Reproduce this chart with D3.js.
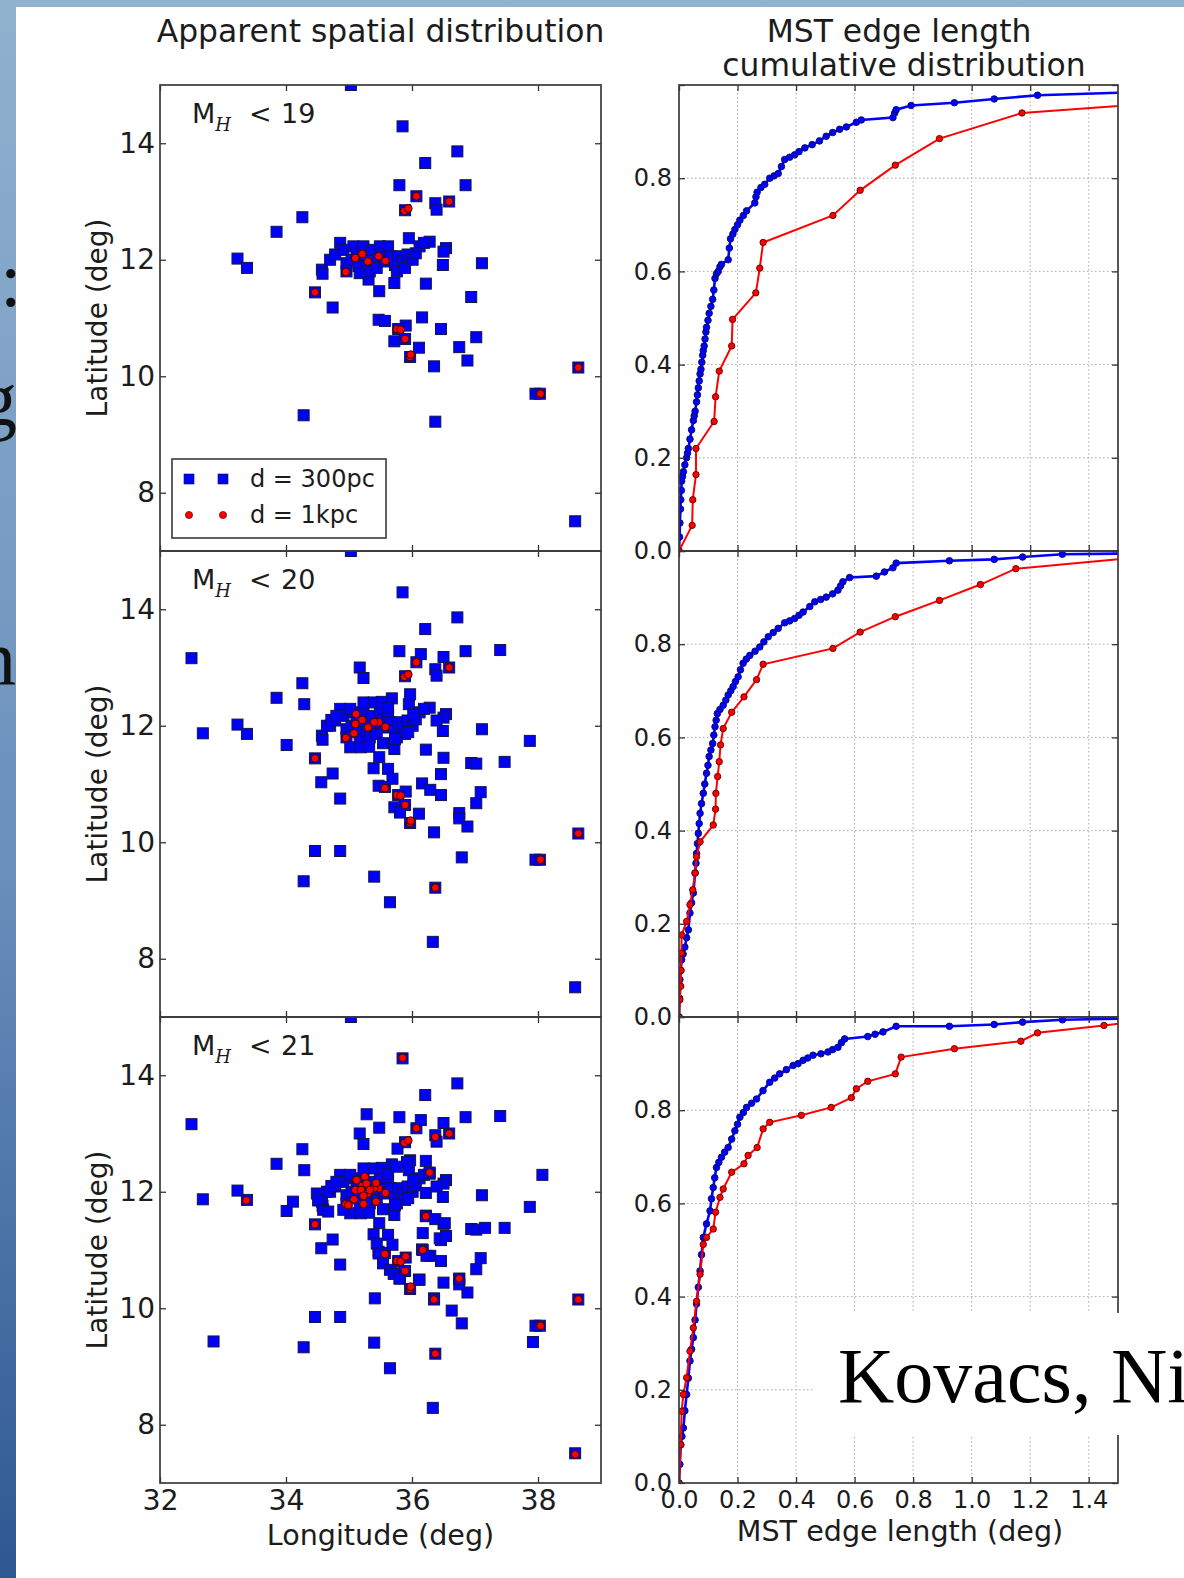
<!DOCTYPE html>
<html><head><meta charset="utf-8">
<script src="https://cdn.jsdelivr.net/npm/d3@7"></script>
<style>body{margin:0;background:#fff;} svg{display:block;}</style>
</head><body>
<svg id="c" width="1184" height="1578"></svg>
<script>
// ---------------- DATA ----------------
const panelLabels = ["19", "20", "21"];
const lonTicks = [32, 34, 36, 38];
const latTicks = [8, 10, 12, 14];
const lenTicks = [0, 0.2, 0.4, 0.6, 0.8, 1.0, 1.2, 1.4];
const cumTicks = [0, 0.2, 0.4, 0.6, 0.8];
const legendLabels = ["d = 300pc", "d = 1kpc"];

// d = 300pc sources, M_H < 19
const blue19 = [[35.03,15.0],[35.85,14.29],[36.72,13.86],[36.21,13.66],[35.80,13.28],[36.85,13.28],[36.07,13.09],[36.37,12.97],[36.39,12.86],[36.59,13.0],[35.89,12.85],[34.26,12.73],[33.85,12.48],[33.23,12.02],[33.38,11.86],[35.95,12.37],[36.28,12.31],[36.54,12.20],[36.50,12.14],[37.11,11.94],[36.49,11.91],[36.22,11.59],[36.94,11.36],[34.46,11.44],[34.74,11.18],[35.48,11.46],[35.72,11.60],[35.31,11.66],[35.47,10.97],[35.57,10.95],[35.90,10.87],[35.78,10.81],[35.72,10.60],[35.89,10.64],[36.16,11.01],[36.46,10.81],[37.02,10.67],[36.75,10.50],[36.11,10.49],[35.97,10.33],[36.35,10.17],[36.88,10.27],[38.64,10.15],[37.96,9.70],[38.03,9.70],[34.28,9.33],[36.37,9.22],[38.59,7.51],
[34.57,11.83],[34.58,11.76],[34.70,12.0],[34.78,12.09],[34.86,12.29],[34.91,12.17],[34.96,11.94],[34.96,11.80],[35.04,12.0],[35.07,12.23],[35.12,12.11],[35.15,11.89],[35.17,11.77],[35.23,12.23],[35.25,12.06],[35.28,11.89],[35.33,11.80],[35.36,12.17],[35.44,12.0],[35.44,11.86],[35.49,12.23],[35.54,12.11],[35.57,11.97],[35.62,12.23],[35.66,12.06],[35.73,11.91],[35.76,11.80],[35.78,12.06],[35.85,11.97],[35.89,11.86],[35.93,12.09],[36.01,12.0],[36.06,12.11],[36.12,12.23],[36.19,12.29]];
// additional d = 300pc sources with 19 <= M_H < 20
const blue20 = [[32.50,13.16],[32.68,11.87],[34.01,11.67],[34.29,12.37],[35.17,13.0],[35.23,12.82],[36.14,13.23],[36.50,13.18],[37.40,13.30],[37.87,11.74],[37.47,11.38],[37.02,11.35],[36.50,11.45],[36.46,11.17],[36.29,10.90],[37.09,10.86],[36.75,10.41],[35.39,11.27],[35.62,11.26],[35.69,11.09],[34.86,10.75],[34.56,11.03],[35.81,10.51],[34.46,9.85],[34.86,9.85],[35.40,9.41],[35.65,8.97],[36.79,9.74],[36.33,8.29],[35.68,12.47],[35.97,12.54],[35.39,12.40],[35.52,12.41],[36.39,12.09],[34.65,12.0],[34.72,12.10],[35.02,11.63],[35.19,11.63],[35.32,11.64],[35.54,11.70],[35.73,11.77],[35.94,11.89],[36.02,12.20],[35.62,12.31],[35.23,12.40],[35.02,12.29],[34.80,12.17]];
// additional d = 300pc sources with 20 <= M_H < 21
const blue21 = [[35.28,13.33],[35.48,13.10],[35.77,12.74],[36.22,12.53],[36.28,12.33],[38.07,12.29],[36.22,11.98],[34.11,11.83],[34.49,11.97],[34.51,11.85],[34.59,11.69],[34.67,11.66],[36.22,11.58],[36.37,11.53],[36.52,11.46],[36.17,11.29],[36.44,11.20],[36.54,11.24],[37.16,11.38],[36.17,11.0],[36.23,10.90],[35.44,11.11],[35.47,10.94],[35.54,10.77],[35.65,10.66],[35.71,10.59],[35.80,10.51],[36.12,10.49],[36.50,10.44],[36.75,10.51],[36.35,10.15],[35.41,10.17],[36.63,9.96],[37.92,9.42],[32.85,9.43],[35.92,12.51],[35.76,12.43],[34.91,11.69]];

// d = 1kpc sources
const red19 = [[36.07,13.09],[36.59,13.0],[35.88,12.84],[35.94,12.88],[34.95,11.79],[35.10,12.03],[35.21,12.10],[35.30,11.97],[35.47,12.06],[35.58,11.98],[34.46,11.44],[35.76,10.81],[35.82,10.80],[35.89,10.64],[35.97,10.33],[35.98,10.37],[38.64,10.15],[38.04,9.70]];
const red20 = [[36.37,9.22],[35.57,10.93],[35.11,12.20],[35.08,11.87],[35.40,12.06]];
const red21 = [[35.85,14.30],[36.28,12.33],[33.37,11.85],[36.22,11.58],[36.17,11.0],[35.90,10.89],[36.75,10.51],[36.35,10.15],[38.59,7.49],[36.37,12.94],[35.12,12.20],[35.25,12.26],[35.19,12.03],[35.28,12.14],[35.23,11.93],[35.33,12.03],[35.43,12.15],[35.43,11.83],[34.99,11.77],[35.23,11.79]];

// MST edge length cumulative distributions [length (deg), fraction]
const cdfBlue19 = [[0,0],[0.002,0.03],[0.003,0.06],[0.005,0.09],[0.006,0.11],[0.008,0.13],[0.009,0.15],[0.012,0.16],[0.015,0.17],[0.02,0.185],[0.026,0.20],[0.029,0.21],[0.032,0.22],[0.0375,0.24],[0.043,0.26],[0.049,0.28],[0.052,0.29],[0.055,0.30],[0.06,0.32],[0.063,0.335],[0.066,0.35],[0.069,0.365],[0.072,0.38],[0.075,0.39],[0.078,0.405],[0.081,0.42],[0.083,0.43],[0.086,0.44],[0.089,0.455],[0.092,0.47],[0.094,0.48],[0.099,0.495],[0.103,0.51],[0.109,0.525],[0.115,0.54],[0.119,0.56],[0.123,0.585],[0.128,0.595],[0.134,0.60],[0.14,0.61],[0.145,0.615],[0.168,0.625],[0.172,0.65],[0.176,0.67],[0.184,0.68],[0.191,0.69],[0.2,0.70],[0.208,0.71],[0.22,0.72],[0.231,0.73],[0.259,0.747],[0.263,0.76],[0.267,0.77],[0.28,0.78],[0.293,0.787],[0.31,0.80],[0.325,0.805],[0.339,0.81],[0.35,0.825],[0.361,0.84],[0.378,0.845],[0.395,0.85],[0.41,0.857],[0.43,0.865],[0.455,0.872],[0.48,0.88],[0.503,0.89],[0.525,0.898],[0.549,0.905],[0.572,0.91],[0.606,0.92],[0.623,0.925],[0.731,0.93],[0.737,0.94],[0.742,0.947],[0.793,0.956],[0.941,0.962],[1.077,0.97],[1.225,0.978],[1.75,0.988]];
const cdfRed19 = [[0,0],[0.045,0.055],[0.047,0.11],[0.058,0.164],[0.058,0.22],[0.12,0.278],[0.125,0.331],[0.1375,0.386],[0.18,0.44],[0.183,0.497],[0.2625,0.554],[0.276,0.607],[0.2875,0.662],[0.526,0.72],[0.619,0.774],[0.739,0.828],[0.89,0.885],[1.172,0.94],[2.5,1.0]];
const cdfBlue20 = [[0,0],[0.002,0.04],[0.003,0.08],[0.006,0.10],[0.009,0.123],[0.014,0.135],[0.02,0.15],[0.026,0.17],[0.032,0.187],[0.0375,0.223],[0.043,0.245],[0.049,0.266],[0.055,0.309],[0.058,0.33],[0.06,0.351],[0.063,0.372],[0.066,0.394],[0.069,0.415],[0.072,0.437],[0.077,0.458],[0.083,0.48],[0.088,0.50],[0.094,0.523],[0.099,0.54],[0.103,0.559],[0.109,0.573],[0.115,0.587],[0.119,0.605],[0.123,0.623],[0.127,0.637],[0.131,0.651],[0.14,0.66],[0.151,0.669],[0.16,0.68],[0.168,0.691],[0.177,0.70],[0.185,0.709],[0.193,0.72],[0.202,0.73],[0.21,0.745],[0.219,0.759],[0.23,0.768],[0.242,0.776],[0.26,0.785],[0.276,0.794],[0.29,0.805],[0.305,0.816],[0.322,0.825],[0.339,0.834],[0.361,0.846],[0.378,0.85],[0.395,0.855],[0.41,0.862],[0.424,0.869],[0.447,0.881],[0.464,0.891],[0.484,0.896],[0.503,0.901],[0.525,0.908],[0.543,0.916],[0.552,0.925],[0.56,0.934],[0.583,0.943],[0.674,0.946],[0.702,0.955],[0.731,0.964],[0.742,0.974],[0.924,0.979],[1.077,0.982],[1.174,0.987],[1.31,0.993],[1.7,0.996]];
const cdfRed20 = [[0,0],[0.003,0.037],[0.006,0.066],[0.007,0.10],[0.008,0.137],[0.009,0.176],[0.026,0.205],[0.0375,0.241],[0.047,0.273],[0.055,0.309],[0.06,0.344],[0.072,0.376],[0.117,0.412],[0.125,0.446],[0.126,0.48],[0.132,0.516],[0.1375,0.548],[0.142,0.584],[0.151,0.619],[0.18,0.654],[0.222,0.687],[0.265,0.724],[0.2875,0.757],[0.526,0.791],[0.619,0.826],[0.739,0.859],[0.89,0.894],[1.03,0.928],[1.151,0.962],[1.8,1.0]];
const cdfBlue21 = [[0,0],[0.003,0.04],[0.006,0.082],[0.01,0.10],[0.015,0.118],[0.02,0.155],[0.026,0.19],[0.032,0.225],[0.0375,0.262],[0.043,0.287],[0.049,0.312],[0.055,0.35],[0.06,0.384],[0.066,0.42],[0.072,0.455],[0.077,0.49],[0.083,0.527],[0.094,0.556],[0.106,0.584],[0.111,0.61],[0.117,0.634],[0.122,0.655],[0.128,0.677],[0.136,0.688],[0.145,0.699],[0.156,0.71],[0.168,0.72],[0.18,0.738],[0.191,0.756],[0.2,0.77],[0.208,0.785],[0.22,0.795],[0.231,0.806],[0.248,0.815],[0.265,0.824],[0.287,0.842],[0.31,0.86],[0.327,0.869],[0.344,0.878],[0.367,0.887],[0.39,0.896],[0.407,0.90],[0.424,0.907],[0.44,0.912],[0.458,0.918],[0.485,0.921],[0.509,0.925],[0.525,0.93],[0.543,0.935],[0.555,0.945],[0.566,0.953],[0.645,0.958],[0.67,0.963],[0.697,0.968],[0.742,0.98],[0.924,0.98],[1.077,0.984],[1.174,0.989],[1.31,0.994],[1.8,1.0]];
const cdfRed21 = [[0,0],[0.006,0.082],[0.009,0.154],[0.015,0.19],[0.026,0.226],[0.0375,0.283],[0.049,0.333],[0.06,0.39],[0.072,0.448],[0.083,0.512],[0.094,0.527],[0.117,0.545],[0.125,0.581],[0.14,0.613],[0.151,0.631],[0.18,0.667],[0.222,0.685],[0.236,0.703],[0.267,0.72],[0.2875,0.76],[0.31,0.774],[0.418,0.789],[0.52,0.806],[0.589,0.827],[0.606,0.846],[0.645,0.862],[0.739,0.878],[0.759,0.914],[0.941,0.932],[1.168,0.948],[1.225,0.966],[1.452,0.982],[1.7,1.0]];

// ---------------- LAYOUT ----------------
const W = 1184, H = 1578;
const FONT = "DejaVu Sans", TXT = "#1c1c1c";
const rowTop = [85, 551, 1017], rowH = 466;
const sx0 = 160, sx1 = 601, cx0 = 679, cx1 = 1118;

const bluePanels = [blue19, blue19.concat(blue20), blue19.concat(blue20, blue21)];
const redPanels = [red19, red19.concat(red20), red19.concat(red20, red21)];
const cdfBluePanels = [cdfBlue19, cdfBlue20, cdfBlue21];
const cdfRedPanels = [cdfRed19, cdfRed20, cdfRed21];

const svg = d3.select("#c");
const defs = svg.append("defs");
const lg = defs.append("linearGradient").attr("id", "bg").attr("x1", 0).attr("y1", 0).attr("x2", 0).attr("y2", 1);
lg.append("stop").attr("offset", "0%").attr("stop-color", "#90b2cf");
lg.append("stop").attr("offset", "55%").attr("stop-color", "#6a8fbc");
lg.append("stop").attr("offset", "100%").attr("stop-color", "#2e5892");
svg.append("rect").attr("width", W).attr("height", H).attr("fill", "url(#bg)");

// fragments of slide text peeking out on the left
const slideFrags = [{t: ":", x: 0, y: 306}, {t: "g", x: -22, y: 425}, {t: "n", x: -23, y: 685}];
svg.selectAll("text.frag").data(slideFrags).join("text").attr("class", "frag")
  .attr("x", d => d.x).attr("y", d => d.y).text(d => d.t)
  .attr("font-family", "Liberation Serif").attr("font-size", 78).attr("fill", "#111");

svg.append("rect").attr("x", 16).attr("y", 7).attr("width", W - 16).attr("height", H - 7).attr("fill", "#fff");

const xLon = d3.scaleLinear().domain([32, 39]).range([sx0, sx1]);
const xLen = d3.scaleLinear().domain([0, 1.5]).range([cx0, cx1]);

function styleAxis(g, fs) {
  g.attr("font-family", FONT).attr("font-size", fs);
  g.select(".domain").remove();
  g.selectAll(".tick line").attr("stroke", "#333").attr("stroke-width", 1.3);
  g.selectAll(".tick text").attr("fill", TXT);
}

rowTop.forEach((top, i) => {
  const bot = top + rowH;
  const yLat = d3.scaleLinear().domain([7, 15]).range([bot, top]);
  const yCum = d3.scaleLinear().domain([0, 1]).range([bot, top]);

  defs.append("clipPath").attr("id", "cs" + i).append("rect")
    .attr("x", sx0).attr("y", top).attr("width", sx1 - sx0).attr("height", rowH);
  defs.append("clipPath").attr("id", "cc" + i).append("rect")
    .attr("x", cx0).attr("y", top).attr("width", cx1 - cx0).attr("height", rowH);

  // ---- scatter panel ----
  const sp = svg.append("g").attr("clip-path", `url(#cs${i})`);
  sp.selectAll("rect.b").data(bluePanels[i]).join("rect").attr("class", "b")
    .attr("x", d => xLon(d[0]) - 5.5).attr("y", d => yLat(d[1]) - 5.5)
    .attr("width", 11).attr("height", 11)
    .attr("fill", "#0000ff").attr("stroke", "#14144a").attr("stroke-width", 1);
  sp.selectAll("circle.r").data(redPanels[i]).join("circle").attr("class", "r")
    .attr("cx", d => xLon(d[0])).attr("cy", d => yLat(d[1])).attr("r", 3.9)
    .attr("fill", "#ff0000").attr("stroke", "#300000").attr("stroke-width", 1);

  // axes scatter
  styleAxis(svg.append("g").attr("transform", `translate(${sx0},0)`)
    .call(d3.axisLeft(yLat).tickValues(latTicks).tickSizeInner(-6).tickSizeOuter(0).tickPadding(5)), 28);
  styleAxis(svg.append("g").attr("transform", `translate(${sx1},0)`)
    .call(d3.axisRight(yLat).tickValues(latTicks).tickSizeInner(-6).tickSizeOuter(0).tickFormat("")), 28);
  styleAxis(svg.append("g").attr("transform", `translate(0,${top})`)
    .call(d3.axisTop(xLon).tickValues(lonTicks).tickSizeInner(-6).tickSizeOuter(0).tickFormat("")), 28);
  styleAxis(svg.append("g").attr("transform", `translate(0,${bot})`)
    .call(d3.axisBottom(xLon).tickValues(lonTicks).tickSizeInner(-6).tickSizeOuter(0).tickPadding(7)
      .tickFormat(i === 2 ? d3.format("d") : "")), 28.5);
  svg.append("rect").attr("x", sx0).attr("y", top).attr("width", sx1 - sx0).attr("height", rowH)
    .attr("fill", "none").attr("stroke", "#3a3a3a").attr("stroke-width", 1.7);

  // panel label
  const lab = svg.append("text").attr("x", 192).attr("y", top + 38)
    .attr("font-family", FONT).attr("font-size", 27).attr("fill", TXT);
  lab.append("tspan").text("M");
  lab.append("tspan").attr("dy", 8).attr("font-family", "DejaVu Serif").attr("font-style", "italic")
    .attr("font-size", 18).text("H");
  lab.append("tspan").attr("dy", -8).attr("x", 249).text("<");
  lab.append("tspan").attr("x", 281).text(panelLabels[i]);

  // y label
  svg.append("text").attr("transform", `translate(107,${top + rowH / 2}) rotate(-90)`)
    .attr("text-anchor", "middle").attr("font-family", FONT).attr("font-size", 28).attr("fill", TXT)
    .text("Latitude (deg)");

  // ---- CDF panel ----
  const gridG = svg.append("g").attr("stroke", "#aaaaaa").attr("stroke-width", 1).attr("stroke-dasharray", "1.5,2.5");
  gridG.selectAll("line.gx").data(lenTicks.filter(d => d > 0)).join("line").attr("class", "gx")
    .attr("x1", d => xLen(d)).attr("x2", d => xLen(d)).attr("y1", top).attr("y2", bot);
  gridG.selectAll("line.gy").data(cumTicks.filter(d => d > 0)).join("line").attr("class", "gy")
    .attr("y1", d => yCum(d)).attr("y2", d => yCum(d)).attr("x1", cx0).attr("x2", cx1);

  const cp = svg.append("g").attr("clip-path", `url(#cc${i})`);
  const line = d3.line().x(d => xLen(d[0])).y(d => yCum(d[1]));
  [[cdfBluePanels[i], "#0000ff", "#0a0a60", 2.6, 3.3], [cdfRedPanels[i], "#ff0000", "#5a0000", 2, 3.2]].forEach(([data, col, edge, lw, r]) => {
    cp.append("path").datum(data).attr("d", line).attr("fill", "none").attr("stroke", col).attr("stroke-width", lw);
    cp.append("g").selectAll("circle").data(data).join("circle")
      .attr("cx", d => xLen(d[0])).attr("cy", d => yCum(d[1])).attr("r", r)
      .attr("fill", col).attr("stroke", edge).attr("stroke-width", 0.9);
  });

  styleAxis(svg.append("g").attr("transform", `translate(${cx0},0)`)
    .call(d3.axisLeft(yCum).tickValues(cumTicks.concat([1])).tickSizeInner(-6).tickSizeOuter(0).tickPadding(7)
      .tickFormat(d => d < 1 ? d3.format(".1f")(d) : "")), 24);
  styleAxis(svg.append("g").attr("transform", `translate(${cx1},0)`)
    .call(d3.axisRight(yCum).tickValues(cumTicks.concat([1])).tickSizeInner(-6).tickSizeOuter(0).tickFormat("")), 24);
  styleAxis(svg.append("g").attr("transform", `translate(0,${top})`)
    .call(d3.axisTop(xLen).tickValues(lenTicks).tickSizeInner(-6).tickSizeOuter(0).tickFormat("")), 24);
  styleAxis(svg.append("g").attr("transform", `translate(0,${bot})`)
    .call(d3.axisBottom(xLen).tickValues(lenTicks).tickSizeInner(-6).tickSizeOuter(0).tickPadding(8)
      .tickFormat(i === 2 ? d3.format(".1f") : "")), 24);
  svg.append("rect").attr("x", cx0).attr("y", top).attr("width", cx1 - cx0).attr("height", rowH)
    .attr("fill", "none").attr("stroke", "#3a3a3a").attr("stroke-width", 1.7);
});

// legend (top-left panel)
const leg = svg.append("g");
leg.append("rect").attr("x", 172).attr("y", 459).attr("width", 214).attr("height", 79)
  .attr("fill", "#fff").attr("stroke", "#3a3a3a").attr("stroke-width", 1.6);
[189, 223].forEach(x => {
  leg.append("rect").attr("x", x - 5).attr("y", 474).attr("width", 10).attr("height", 10)
    .attr("fill", "#0000ff").attr("stroke", "#10104a").attr("stroke-width", 0.6);
  leg.append("circle").attr("cx", x).attr("cy", 515).attr("r", 3.6)
    .attr("fill", "#ff0000").attr("stroke", "#300000").attr("stroke-width", 0.6);
});
leg.selectAll("text").data(legendLabels).join("text")
  .attr("x", 250).attr("y", (d, k) => 487 + k * 36).text(d => d)
  .attr("font-family", FONT).attr("font-size", 24).attr("fill", TXT);

// titles and axis labels
const tAttr = s => s.attr("font-family", FONT).attr("fill", TXT).attr("text-anchor", "middle");
tAttr(svg.append("text")).attr("x", (sx0 + sx1) / 2).attr("y", 42).attr("font-size", 31.4).text("Apparent spatial distribution");
tAttr(svg.append("text")).attr("x", 899).attr("y", 42).attr("font-size", 31.4).text("MST edge length");
tAttr(svg.append("text")).attr("x", 904).attr("y", 76).attr("font-size", 31.4).text("cumulative distribution");
tAttr(svg.append("text")).attr("x", (sx0 + sx1) / 2).attr("y", 1545).attr("font-size", 28.6).text("Longitude (deg)");
tAttr(svg.append("text")).attr("x", 900).attr("y", 1541).attr("font-size", 28.6).text("MST edge length (deg)");

// slide citation box covering lower right
svg.append("rect").attr("x", 815).attr("y", 1313).attr("width", W - 815).attr("height", 122).attr("fill", "#fff");
svg.append("text").attr("x", 838).attr("y", 1402).attr("font-family", "Liberation Serif").attr("font-size", 78)
  .attr("fill", "#000").text("Kovacs, Ni");
</script>
</body></html>
